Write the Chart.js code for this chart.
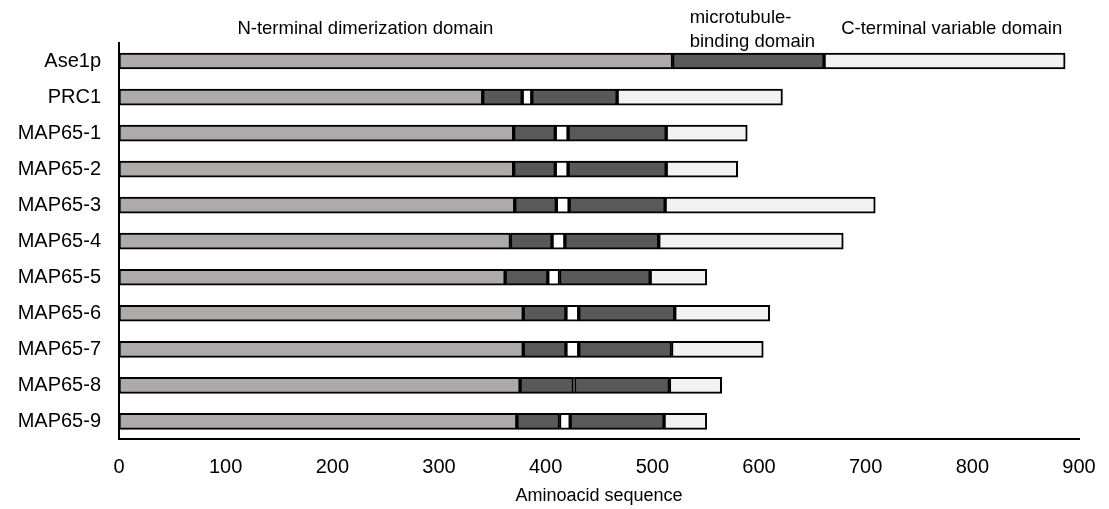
<!DOCTYPE html>
<html>
<head>
<meta charset="utf-8">
<script src="https://cdn.jsdelivr.net/npm/chart.js@4"></script>
<style>
  html, body { margin: 0; padding: 0; background: #fff; }
  #wrap { width: 1109px; height: 509px; position: relative; }
</style>
</head>
<body>
<div id="wrap"><canvas id="domainChart"></canvas></div>
<script>
// proteins (top to bottom) and domain segment lengths in amino acids
const proteins = ['Ase1p', 'PRC1', 'MAP65-1', 'MAP65-2', 'MAP65-3', 'MAP65-4', 'MAP65-5', 'MAP65-6', 'MAP65-7', 'MAP65-8', 'MAP65-9'];
const nTerminal = [519, 341, 370, 370, 371, 367, 362, 379, 379, 376, 373];
const mtBindingA = [142, 37, 39, 39, 39, 39, 40, 40, 40, 50, 40];
const mtGap = [null, 9, 12, 12, 12, 12, 11, 12, 12, 1, 10];
const mtBindingB = [null, 80, 92, 92, 90, 88, 85, 90, 87, 89, 88];
const cTerminal = [226, 155, 76, 67, 197, 173, 53, 89, 86, 49, 40];
const xTicks = [0, 100, 200, 300, 400, 500, 600, 700, 800, 900];

const FONT = "'Liberation Sans', Arial, sans-serif";

function segment(label, data, color) {
    return {
        label: label,
        data: data,
        backgroundColor: color,
        borderColor: '#000',
        borderWidth: 2,
        borderSkipped: false,
        barThickness: 16
    };
}

// domain headings above the bars
const headings = {
    id: 'headings',
    afterDraw(chart) {
        const ctx = chart.ctx;
        const x = chart.scales.x;
        ctx.save();
        ctx.fillStyle = '#000';
        ctx.font = '18.5px ' + FONT;
        ctx.textBaseline = 'middle';
        ctx.textAlign = 'center';
        ctx.fillText('N-terminal dimerization domain', x.getPixelForValue(231), 29);
        ctx.textAlign = 'left';
        ctx.fillText('microtubule-', x.getPixelForValue(535), 18);
        ctx.fillText('binding domain', x.getPixelForValue(535), 42);
        ctx.fillText('C-terminal variable domain', x.getPixelForValue(677), 29);
        ctx.restore();
    }
};

const domainCtx = document.getElementById('domainChart').getContext('2d');
const domainChart = new Chart(domainCtx, {
    type: 'bar',
    data: {
        labels: proteins,
        datasets: [
            segment('N-terminal dimerization domain', nTerminal, '#aeaaaa'),
            segment('microtubule-binding domain', mtBindingA, '#595959'),
            segment('gap', mtGap, '#ffffff'),
            segment('microtubule-binding domain (2)', mtBindingB, '#595959'),
            segment('C-terminal variable domain', cTerminal, '#f2f2f2')
        ]
    },
    options: {
        indexAxis: 'y',
        responsive: true,
        maintainAspectRatio: false,
        animation: false,
        layout: {
            padding: { top: 43, right: 30, bottom: 2, left: 0 }
        },
        plugins: {
            legend: { display: false },
            tooltip: { enabled: false }
        },
        scales: {
            x: {
                stacked: true,
                min: 0,
                max: 900,
                afterBuildTicks: (scale) => {
                    scale.ticks = xTicks.map(v => ({ value: v }));
                },
                afterFit: (scale) => {
                    scale.paddingLeft = 0;
                    scale.paddingRight = 0;
                },
                grid: { display: false, drawTicks: false },
                border: { color: '#000', width: 2 },
                ticks: {
                    color: '#000',
                    font: { family: FONT, size: 20 },
                    padding: 16
                },
                title: {
                    display: true,
                    text: 'Aminoacid sequence',
                    color: '#000',
                    font: { family: FONT, size: 18 },
                    padding: { top: -10, bottom: 0 }
                }
            },
            y: {
                stacked: true,
                grid: { display: false, drawTicks: false },
                border: { color: '#000', width: 2 },
                ticks: {
                    color: '#000',
                    font: { family: FONT, size: 20 },
                    padding: 18
                },
                afterFit: (scale) => {
                    scale.width = 119;
                }
            }
        }
    },
    plugins: [headings]
});
</script>
</body>
</html>
